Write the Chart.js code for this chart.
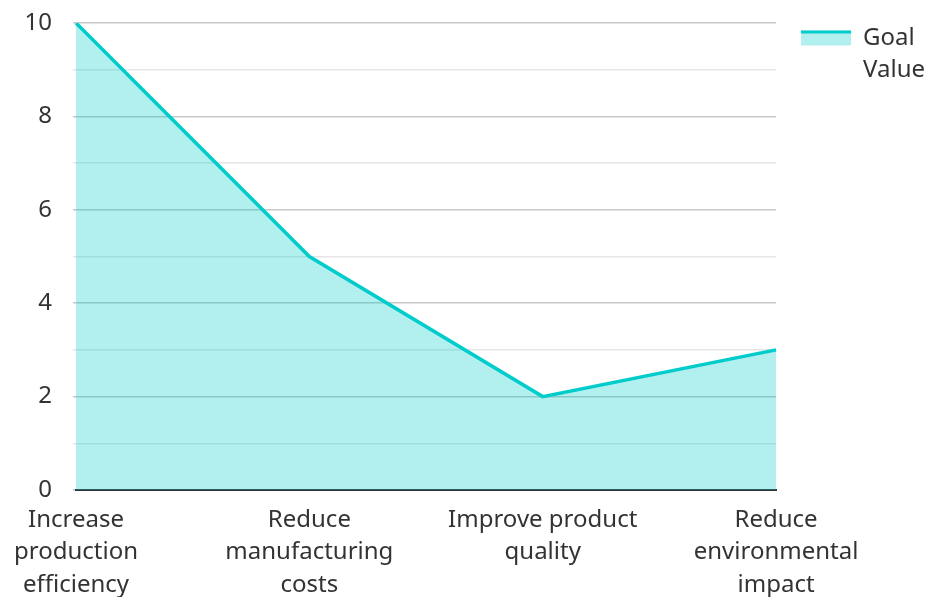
<!DOCTYPE html>
<html>
<head>
<meta charset="utf-8">
<script src="https://cdn.jsdelivr.net/npm/chart.js@4"></script>
<style>
    html, body { margin: 0; padding: 0; background: #fff; }
    #wrap { width: 925px; height: 597px; position: relative; }
</style>
</head>
<body>
<div id="wrap"><canvas id="goalsChart"></canvas></div>
<script>
// Данные графика
const categories = [
    ['Increase', 'production', 'efficiency'],
    ['Reduce', 'manufacturing', 'costs'],
    ['Improve product', 'quality'],
    ['Reduce', 'environmental', 'impact']
];
const goalValues = [10, 5, 2, 3];
const seriesLabel = ['Goal', 'Value'];
const yTicks = [0, 2, 4, 6, 8, 10];

const lineColor = '#00cccc';
const fillColor = 'rgba(0, 204, 204, 0.3)';
const textColor = '#333333';
const fontFamily = '"Noto Sans", "Open Sans", sans-serif';
const fontSize = 24;
const boxH = 15;

// Линия сверху на значке легенды
const legendLinePlugin = {
    id: 'legendLine',
    afterDraw(chart) {
        const legend = chart.legend;
        if (!legend || !legend.legendHitBoxes) return;
        const ctx = chart.ctx;
        legend.legendHitBoxes.forEach(box => {
            ctx.save();
            ctx.fillStyle = lineColor;
            ctx.fillRect(box.left, box.top + (fontSize - boxH) / 2, 50, 3);
            ctx.restore();
        });
    }
};

new Chart(document.getElementById('goalsChart'), {
    type: 'line',
    data: {
        labels: categories,
        datasets: [{
            label: seriesLabel,
            data: goalValues,
            borderColor: lineColor,
            backgroundColor: fillColor,
            borderWidth: 3.5,
            fill: 'origin',
            tension: 0,
            pointRadius: 0
        }]
    },
    options: {
        responsive: true,
        maintainAspectRatio: false,
        animation: false,
        layout: { padding: { top: 1, right: -10, left: 0, bottom: 0 } },
        plugins: {
            tooltip: { enabled: false },
            legend: {
                position: 'right',
                align: 'start',
                labels: {
                    color: textColor,
                    boxWidth: 50,
                    boxHeight: boxH,
                    padding: 25,
                    font: { family: fontFamily, size: fontSize, lineHeight: 1.35 },
                    generateLabels(chart) {
                        const ds = chart.data.datasets[0];
                        return [{
                            text: ds.label,
                            fillStyle: fillColor,
                            strokeStyle: fillColor,
                            lineWidth: 0,
                            fontColor: textColor,
                            datasetIndex: 0
                        }];
                    }
                }
            }
        },
        scales: {
            x: {
                offset: false,
                grid: { display: false, drawTicks: false },
                border: { display: true, color: '#333333', width: 2 },
                ticks: {
                    color: textColor,
                    maxRotation: 0,
                    autoSkip: false,
                    padding: 14,
                    font: { family: fontFamily, size: fontSize, lineHeight: 1.35 }
                },
                afterFit: scale => { scale.height = 107; }
            },
            y: {
                min: 0,
                max: 10,
                border: { display: false },
                grid: {
                    color: ctx => (ctx.tick && ctx.tick.value % 2 === 0) ? '#c8c8c8' : '#e6e6e6',
                    lineWidth: 1.5,
                    tickLength: 3
                },
                ticks: {
                    stepSize: 1,
                    color: textColor,
                    padding: 21,
                    font: { family: fontFamily, size: fontSize },
                    callback: v => yTicks.includes(v) ? v : ''
                },
                afterFit: scale => { scale.paddingTop = 23; }
            }
        }
    },
    plugins: [legendLinePlugin]
});
</script>
</body>
</html>
